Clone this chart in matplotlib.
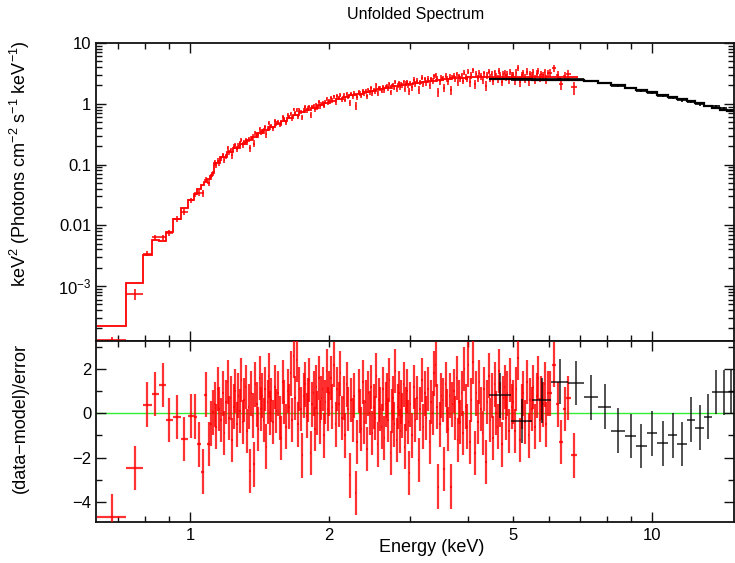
import numpy as np
import matplotlib
matplotlib.use('Agg')
import matplotlib.pyplot as plt
from matplotlib.ticker import FixedLocator, FixedFormatter, NullFormatter

plt.rcParams['font.family'] = ['Liberation Sans', 'DejaVu Sans']
plt.rcParams['mathtext.fontset'] = 'custom'
plt.rcParams['mathtext.rm'] = 'Liberation Sans'
plt.rcParams['mathtext.it'] = 'Liberation Sans:italic'
plt.rcParams['mathtext.bf'] = 'Liberation Sans:bold'

# ---------------- data ----------------
# red data set: wide low-energy bins (edges, keV)
red_lo_edges = [0.628, 0.727, 0.790, 0.826, 0.858, 0.887, 0.917, 0.958, 0.988, 1.018,
                1.036, 1.056, 1.074, 1.089, 1.105, 1.117, 1.126]
red_lo_model = [2.2e-4, 1.13e-3, 3.3e-3, 5.8e-3, 5.6e-3, 7.8e-3, 1.29e-2, 1.9e-2, 2.6e-2,
                3.3e-2, 4.0e-2, 4.6e-2, 5.2e-2, 5.8e-2, 6.5e-2, 7.2e-2]
red_lo_resid = [-4.66, -2.47, 0.39, 0.88, 1.29, -0.31, -0.17, -1.15, -0.12, -0.15,
                -1.40, -2.63, 0.84, -1.38, -0.46, 0.04]
red_lo_relerr = [0.09, 0.14, 0.10, 0.10, 0.10, 0.10, 0.10, 0.10, 0.10, 0.10,
                 0.10, 0.10, 0.10, 0.10, 0.10, 0.10]

# red data set: dense bins (centres, keV)
red_E = [
    1.130, 1.139, 1.149, 1.158, 1.168, 1.177, 1.187, 1.196, 1.206, 1.215,
    1.225, 1.234, 1.244, 1.253, 1.263, 1.272, 1.282, 1.291, 1.301, 1.310,
    1.320, 1.329, 1.339, 1.348, 1.358, 1.367, 1.377, 1.386, 1.396, 1.405,
    1.415, 1.424, 1.434, 1.443, 1.453, 1.462, 1.472, 1.481, 1.491,
    1.501, 1.513, 1.526, 1.538, 1.551, 1.563, 1.576, 1.588, 1.601, 1.613,
    1.626, 1.638, 1.651, 1.663, 1.676, 1.688, 1.701, 1.713, 1.726, 1.738,
    1.751, 1.763, 1.776, 1.788, 1.801, 1.813, 1.826, 1.838, 1.851, 1.863,
    1.876, 1.888, 1.901, 1.913, 1.926, 1.938, 1.951, 1.963, 1.976, 1.988,
    2.000, 2.017, 2.033, 2.050, 2.067, 2.083, 2.100, 2.117, 2.133, 2.150,
    2.167, 2.183, 2.200, 2.217, 2.233, 2.250, 2.267, 2.283, 2.300, 2.317,
    2.333, 2.350, 2.367, 2.383, 2.400, 2.417, 2.433, 2.450, 2.467, 2.483,
    2.500, 2.517, 2.533, 2.550, 2.567, 2.583, 2.600, 2.617, 2.633, 2.650,
    2.667, 2.683, 2.700, 2.717, 2.733, 2.750, 2.767, 2.783, 2.800, 2.817,
    2.833, 2.850, 2.867, 2.883, 2.900, 2.917, 2.933, 2.950, 2.967, 2.983,
    3.000, 3.025, 3.050, 3.075, 3.100, 3.125, 3.150, 3.175, 3.200, 3.225,
    3.250, 3.275, 3.300, 3.325, 3.350, 3.375, 3.400, 3.425, 3.450, 3.475,
    3.500, 3.525, 3.550, 3.575, 3.600, 3.625, 3.650, 3.675, 3.700, 3.725,
    3.750, 3.775, 3.800, 3.825, 3.850, 3.875, 3.900, 3.925, 3.950, 3.975,
    4.000, 4.033, 4.067, 4.100, 4.133, 4.167, 4.200, 4.233, 4.267, 4.300,
    4.333, 4.367, 4.400, 4.433, 4.467, 4.500, 4.533, 4.567, 4.600, 4.633,
    4.667, 4.700, 4.733, 4.767, 4.800, 4.833, 4.867, 4.900, 4.933, 4.967,
    5.000, 5.045, 5.090, 5.135, 5.180, 5.225, 5.270, 5.315, 5.360, 5.405,
    5.450, 5.495, 5.540, 5.585, 5.630, 5.675, 5.720, 5.765, 5.810, 5.855,
    5.900, 5.945,
    6.02, 6.13, 6.25, 6.36, 6.47, 6.58, 6.77,
]
red_E_top = 6.87
red_resid = [
    0.4, -0.6, 1.1, 0.2, -0.3, 0.9, -0.9, 0.5, 1.4, -0.2,
    0.7, -1.2, 0.3, 1.0, -0.5, 0.8, 0.1, 1.5, -0.4, 0.6,
    1.2, -0.8, 0.3, -2.6, 0.9, -0.1, -2.3, 1.3, 0.4, -0.7,
    1.6, 0.2, 0.8, -0.3, 1.1, -1.5, 0.5, 1.7, 0.0,
    0.6, -0.4, 1.2, 0.1, 0.9, -0.2, -1.1, 1.4, 0.5, -0.6,
    1.0, 0.3, 1.8, -0.3, 2.6, 0.7, 2.4, -0.5, 1.1, 0.2,
    -1.9, 0.8, 1.3, -0.1, 0.6, 1.5, -1.8, 0.4, 0.9, -0.7,
    1.2, 0.0, 1.6, -0.4, 0.7, 1.1, -1.0, 0.5, 1.9, 0.2,
    0.9, 1.6, 0.3, 2.2, -0.5, 1.1, 0.4, 1.8, -0.2, 0.7,
    -1.0, 1.3, 0.2, -2.8, 0.6, -0.3, 0.8, -3.6, -1.3, 1.0,
    0.1, -0.7, 1.4, -0.4, 0.5, -1.6, 0.9, 0.0, 1.2, -0.9,
    0.3, -0.2, 1.7, -1.4, 0.6, 0.2, -0.6, 1.1, -1.1, 0.4,
    0.8, -0.3, 1.5, -1.8, 0.1, 0.7, -0.5, 1.9, -1.2, 0.3,
    0.9, -0.8, 0.5, -0.1, 1.3, -1.5, 0.2, 1.0, -0.4, -2.7,
    0.4, -1.0, 1.2, -0.3, 0.7, -2.1, 0.2, 1.5, -0.6, 0.9,
    -0.2, 1.1, -1.3, 0.5, 0.0, 1.8, 2.2, 0.3, -3.3, -0.5,
    0.8, 0.6, -2.5, 1.3, 0.1, -0.7, 0.8, -3.3, 0.4, 1.0,
    -0.2, 1.6, -1.2, 0.5, -0.4, 0.9, -0.9, 2.0, 0.3, -0.6,
    2.2, -1.3, 0.6, 2.3, -1.8, 0.9, -0.4, 1.4, 0.2, -0.9,
    1.1, -2.2, 0.5, 1.7, -0.3, 0.8, -1.1, 1.3, 0.0, -0.6,
    1.9, 0.4, -1.4, 0.7, 1.2, -0.2, 0.9, -0.8, 1.5, 0.3,
    0.5, -0.8, 1.1, 2.5, -1.2, 0.3, 0.9, -0.4, 1.4, -1.0,
    0.6, 0.2, 1.2, -0.6, 0.8, 1.6, -0.3, 0.7, 0.4, 1.3,
    -0.5, 0.9,
    0.9, 2.2, 0.4, -1.3, 0.2, 0.7, -1.9,
]
# red model (coarse steps over the dense region)
red_model_edges = [1.126, 1.16, 1.20, 1.24, 1.28, 1.32, 1.36, 1.40, 1.44, 1.48,
                   1.525, 1.575, 1.625, 1.675, 1.725, 1.775, 1.83, 1.89, 1.95, 2.01,
                   2.07, 2.14, 2.21, 2.29, 2.37, 2.45, 2.53, 2.63, 2.73, 2.83,
                   2.93, 3.04, 3.16, 3.28, 3.40, 3.53, 3.67, 3.82, 3.97, 4.15,
                   4.35, 4.55, 4.75, 4.97, 5.22, 5.47, 5.72, 5.97, 6.25, 6.55, 6.9]
red_model_vals = [0.104, 0.131, 0.161, 0.190, 0.220, 0.252, 0.287, 0.327, 0.371, 0.41,
                  0.47, 0.53, 0.59, 0.655, 0.72, 0.79, 0.86, 0.94, 1.02, 1.10,
                  1.20, 1.28, 1.37, 1.45, 1.54, 1.64, 1.74, 1.84, 1.93, 2.02,
                  2.11, 2.20, 2.29, 2.38, 2.46, 2.54, 2.61, 2.67, 2.72, 2.76,
                  2.78, 2.80, 2.80, 2.80, 2.80, 2.79, 2.78, 2.77, 2.76, 2.74]
red_relerr_edges = [1.126, 1.5, 2.0, 3.0, 4.0, 5.0, 6.0, 6.9]
red_relerr_vals = [0.10, 0.09, 0.09, 0.11, 0.13, 0.15, 0.17]

# black data set
black_edges = [4.44, 4.95, 5.50, 6.04, 6.58, 7.12, 7.64, 8.15, 8.74, 9.23,
               9.75, 10.25, 10.83, 11.33, 11.91, 12.39, 12.96, 13.49, 14.04, 14.53, 15.1]
black_model = [2.52, 2.52, 2.50, 2.47, 2.42, 2.33, 2.20, 2.02, 1.85, 1.70,
               1.56, 1.42, 1.30, 1.20, 1.10, 1.01, 0.93, 0.86, 0.80, 0.75]
black_resid = [0.81, -0.36, 0.58, 1.43, 1.38, 0.72, 0.30, -0.78, -1.03, -1.48,
               -0.91, -1.36, -1.00, -1.39, -0.28, -0.64, -0.15, 0.97, 0.94, 0.97]
black_relerr = [0.02, 0.025, 0.025, 0.025, 0.03, 0.03, 0.03, 0.03, 0.035, 0.035,
                0.035, 0.04, 0.04, 0.04, 0.045, 0.045, 0.05, 0.05, 0.05, 0.05]

# ---------------- derived ----------------
lo_edges = np.array(red_lo_edges)
lo_c = 0.5 * (lo_edges[:-1] + lo_edges[1:])
dE = np.array(red_E)
mids = 0.5 * (dE[:-1] + dE[1:])
d_lo = np.concatenate([[red_lo_edges[-1]], mids])
d_hi = np.concatenate([mids, [red_E_top]])
me = np.array(red_model_edges)
d_model = np.array(red_model_vals)[np.clip(np.searchsorted(me, dE) - 1, 0, len(red_model_vals) - 1)]
re_ = np.array(red_relerr_edges)
d_rel = np.array(red_relerr_vals)[np.clip(np.searchsorted(re_, dE) - 1, 0, len(red_relerr_vals) - 1)]

rE = np.concatenate([lo_c, dE])
rlo = np.concatenate([lo_edges[:-1], d_lo])
rhi = np.concatenate([lo_edges[1:], d_hi])
rmodel = np.concatenate([red_lo_model, d_model])
rrel = np.concatenate([red_lo_relerr, d_rel])
rres = np.array(red_lo_resid + red_resid)
rerr = rrel * rmodel
rdata = rmodel + rres * rerr

be = np.array(black_edges)
bc = 0.5 * (be[:-1] + be[1:])
bmod = np.array(black_model)
berr = np.array(black_relerr) * bmod
bres = np.array(black_resid)
bdata = bmod + bres * berr

# ---------------- figure ----------------
W, H = 735, 563
fig = plt.figure(figsize=(W / 100, H / 100), dpi=100)
L = 96 / W
R = 734 / W
ax1 = fig.add_axes([L, 1 - 341 / H, R - L, (341 - 43) / H])
ax2 = fig.add_axes([L, 1 - 522 / H, R - L, (522 - 341) / H], sharex=ax1)

RED = '#ff0000'

# top panel
ax1.stairs(black_model, black_edges, baseline=None, color='black', lw=1.6, zorder=4)
ax1.stairs(red_lo_model + red_model_vals, red_lo_edges + red_model_edges[1:],
           baseline=None, color=RED, lw=1.3, zorder=2)
ax1.errorbar(rE, rdata, xerr=[rE - rlo, rhi - rE], yerr=rerr, fmt='none',
             ecolor=RED, elinewidth=1.3, alpha=0.85, zorder=3)
ax1.errorbar(bc, bdata, xerr=[bc - be[:-1], be[1:] - bc], yerr=berr, fmt='none',
             ecolor='black', elinewidth=1.2, zorder=5)

# bottom panel
ax2.axhline(0, color='#33ee33', lw=1.0, zorder=1)
ax2.errorbar(rE, rres, xerr=[rE - rlo, rhi - rE], yerr=np.ones_like(rres), fmt='none',
             ecolor=RED, elinewidth=1.6, alpha=0.8, zorder=3)
ax2.errorbar(bc, bres, xerr=[bc - be[:-1], be[1:] - bc], yerr=np.ones_like(bres), fmt='none',
             ecolor='black', elinewidth=1.2, alpha=0.8, zorder=4)

for ax in (ax1, ax2):
    ax.set_xscale('log')
    ax.set_xlim(0.626, 15.05)
    for s in ax.spines.values():
        s.set_linewidth(1.3)
        s.set_color('#111111')
    ax.tick_params(which='both', direction='in', top=True, right=True, width=1.0,
                   colors='#111111', labelsize=12, labelcolor='black')
    ax.tick_params(which='major', length=7)
    ax.tick_params(which='minor', length=4)
    ax.xaxis.set_major_locator(FixedLocator([1, 10]))
    ax.xaxis.set_minor_locator(FixedLocator([0.7, 0.8, 0.9, 2, 3, 4, 5, 6, 7, 8, 9]))

ax1.set_yscale('log')
ax1.set_ylim(1.245e-4, 10)
ax1.yaxis.set_major_locator(FixedLocator([1e-3, 1e-2, 0.1, 1, 10]))
ax1.yaxis.set_major_formatter(FixedFormatter([r'10$^{-3}$', '0.01', '0.1', '1', '10']))
ax1.yaxis.set_minor_locator(FixedLocator([m * 10.0 ** k for k in range(-4, 1) for m in range(2, 10)]))
ax1.yaxis.set_minor_formatter(NullFormatter())
ax1.tick_params(labelbottom=False, which='both')

ax2.set_ylim(-4.9, 3.26)
ax2.yaxis.set_major_locator(FixedLocator([-4, -2, 0, 2]))
ax2.yaxis.set_major_formatter(FixedFormatter(['\u22124', '\u22122', '0', '2']))
ax2.yaxis.set_minor_locator(FixedLocator([-3, -1, 1, 3]))
ax2.xaxis.set_major_formatter(FixedFormatter(['1', '10']))
ax2.xaxis.set_minor_formatter(FixedFormatter(['', '', '', '2', '', '', '5', '', '', '', '']))
ax2.tick_params(axis='x', which='both', labelsize=12, pad=4)

fig.text(416 / W, 1 - 14 / H, 'Unfolded Spectrum', ha='center', va='center', fontsize=11.5)
fig.text(432 / W, 1 - 548 / H, 'Energy (keV)', ha='center', va='center', fontsize=13)
fig.text(20 / W, 1 - 164 / H, r'keV$^2$ (Photons cm$^{-2}$ s$^{-1}$ keV$^{-1}$)',
         ha='center', va='center', rotation=90, fontsize=13)
fig.text(20 / W, 1 - 418 / H, '(data\u2212model)/error', ha='center', va='center',
         rotation=90, fontsize=13)

fig.savefig('out.png', dpi=100)
